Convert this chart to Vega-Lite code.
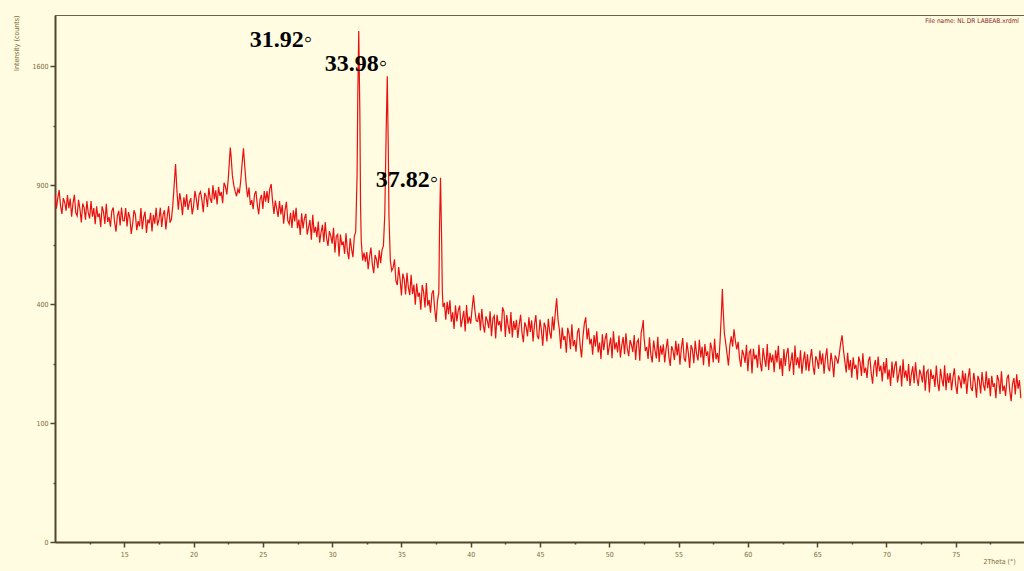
{
  "$schema": "https://vega.github.io/schema/vega-lite/v6.json",
  "width": 970,
  "height": 527,
  "autosize": {"type": "none"},
  "padding": {"left": 55, "top": 15, "right": 0, "bottom": 29},
  "background": "#FFFCE1",
  "title": {"text": "File name: NL  DR LABEAB.xrdml", "anchor": "end", "frame": "group", "orient": "top", "offset": -9, "dx": -6, "fontSize": 6.5, "font": "Liberation Sans Narrow, DejaVu Sans Condensed, sans-serif", "fontWeight": "normal", "color": "#8b1a1a"},
  "config": {
    "view": {"stroke": "#6b6245", "strokeWidth": 1},
    "axis": {"grid": false, "labelOverlap": false, "domainColor": "#4f462c", "domainWidth": 2, "tickColor": "#4f462c", "tickWidth": 1.5, "labelColor": "#7d6b3a", "labelFontSize": 7, "labelFont": "Liberation Sans Narrow, DejaVu Sans Condensed, sans-serif", "titleColor": "#7d6b3a", "titleFontSize": 7, "titleFontWeight": "normal", "titleFont": "Liberation Sans Narrow, DejaVu Sans Condensed, sans-serif"}
  },
  "resolve": {"axis": {"x": "independent"}},
  "layer": [
    {
      "data": {"values": [
{"angle":10.0,"counts":860},{"angle":10.1,"counts":785},{"angle":10.2,"counts":836},{"angle":10.3,"counts":875},{"angle":10.4,"counts":800},{"angle":10.5,"counts":761},{"angle":10.6,"counts":836},{"angle":10.7,"counts":815},{"angle":10.8,"counts":776},{"angle":10.9,"counts":851},
{"angle":11.0,"counts":788},{"angle":11.1,"counts":834},{"angle":11.2,"counts":748},{"angle":11.3,"counts":812},{"angle":11.4,"counts":852},{"angle":11.5,"counts":766},{"angle":11.6,"counts":752},{"angle":11.7,"counts":828},{"angle":11.8,"counts":784},{"angle":11.9,"counts":722},
{"angle":12.0,"counts":810},{"angle":12.1,"counts":790},{"angle":12.2,"counts":734},{"angle":12.3,"counts":822},{"angle":12.4,"counts":766},{"angle":12.5,"counts":740},{"angle":12.6,"counts":822},{"angle":12.7,"counts":748},{"angle":12.8,"counts":788},{"angle":12.9,"counts":714},
{"angle":13.0,"counts":796},{"angle":13.1,"counts":746},{"angle":13.2,"counts":763},{"angle":13.3,"counts":701},{"angle":13.4,"counts":796},{"angle":13.5,"counts":770},{"angle":13.6,"counts":715},{"angle":13.7,"counts":809},{"angle":13.8,"counts":724},{"angle":13.9,"counts":746},
{"angle":14.0,"counts":703},{"angle":14.1,"counts":774},{"angle":14.2,"counts":791},{"angle":14.3,"counts":724},{"angle":14.4,"counts":681},{"angle":14.5,"counts":752},{"angle":14.6,"counts":775},{"angle":14.7,"counts":708},{"angle":14.8,"counts":791},{"angle":14.9,"counts":730},
{"angle":15.0,"counts":729},{"angle":15.1,"counts":788},{"angle":15.2,"counts":704},{"angle":15.3,"counts":769},{"angle":15.4,"counts":744},{"angle":15.5,"counts":671},{"angle":15.6,"counts":713},{"angle":15.7,"counts":778},{"angle":15.8,"counts":759},{"angle":15.9,"counts":687},
{"angle":16.0,"counts":728},{"angle":16.1,"counts":704},{"angle":16.2,"counts":788},{"angle":16.3,"counts":692},{"angle":16.4,"counts":746},{"angle":16.5,"counts":771},{"angle":16.6,"counts":675},{"angle":16.7,"counts":735},{"angle":16.8,"counts":718},{"angle":16.9,"counts":766},
{"angle":17.0,"counts":682},{"angle":17.1,"counts":756},{"angle":17.2,"counts":716},{"angle":17.3,"counts":790},{"angle":17.4,"counts":708},{"angle":17.5,"counts":734},{"angle":17.6,"counts":790},{"angle":17.7,"counts":702},{"angle":17.8,"counts":758},{"angle":17.9,"counts":778},
{"angle":18.0,"counts":690},{"angle":18.1,"counts":752},{"angle":18.2,"counts":797},{"angle":18.3,"counts":721},{"angle":18.4,"counts":736},{"angle":18.5,"counts":800},{"angle":18.6,"counts":900},{"angle":18.7,"counts":1010},{"angle":18.8,"counts":870},{"angle":18.9,"counts":780},
{"angle":19.0,"counts":860},{"angle":19.1,"counts":819},{"angle":19.2,"counts":755},{"angle":19.3,"counts":840},{"angle":19.4,"counts":794},{"angle":19.5,"counts":855},{"angle":19.6,"counts":779},{"angle":19.7,"counts":816},{"angle":19.8,"counts":836},{"angle":19.9,"counts":759},
{"angle":20.0,"counts":797},{"angle":20.1,"counts":871},{"angle":20.2,"counts":831},{"angle":20.3,"counts":779},{"angle":20.4,"counts":853},{"angle":20.5,"counts":867},{"angle":20.6,"counts":827},{"angle":20.7,"counts":769},{"angle":20.8,"counts":861},{"angle":20.9,"counts":845},
{"angle":21.0,"counts":793},{"angle":21.1,"counts":886},{"angle":21.2,"counts":834},{"angle":21.3,"counts":813},{"angle":21.4,"counts":899},{"angle":21.5,"counts":830},{"angle":21.6,"counts":874},{"angle":21.7,"counts":805},{"angle":21.8,"counts":891},{"angle":21.9,"counts":846},
{"angle":22.0,"counts":866},{"angle":22.1,"counts":811},{"angle":22.2,"counts":912},{"angle":22.3,"counts":893},{"angle":22.4,"counts":854},{"angle":22.5,"counts":930},{"angle":22.6,"counts":1040},{"angle":22.65,"counts":1100},{"angle":22.7,"counts":1060},{"angle":22.8,"counts":950},{"angle":22.9,"counts":900},
{"angle":23.0,"counts":870},{"angle":23.1,"counts":845},{"angle":23.2,"counts":880},{"angle":23.3,"counts":860},{"angle":23.4,"counts":920},{"angle":23.5,"counts":1010},{"angle":23.6,"counts":1095},{"angle":23.7,"counts":990},{"angle":23.8,"counts":900},{"angle":23.9,"counts":840},
{"angle":24.0,"counts":888},{"angle":24.1,"counts":803},{"angle":24.2,"counts":826},{"angle":24.3,"counts":783},{"angle":24.4,"counts":854},{"angle":24.5,"counts":871},{"angle":24.6,"counts":803},{"angle":24.7,"counts":759},{"angle":24.8,"counts":830},{"angle":24.9,"counts":852},
{"angle":25.0,"counts":784},{"angle":25.1,"counts":870},{"angle":25.2,"counts":819},{"angle":25.3,"counts":870},{"angle":25.4,"counts":813},{"angle":25.5,"counts":882},{"angle":25.6,"counts":905},{"angle":25.7,"counts":822},{"angle":25.8,"counts":761},{"angle":25.9,"counts":824},
{"angle":26.0,"counts":786},{"angle":26.1,"counts":747},{"angle":26.2,"counts":822},{"angle":26.3,"counts":758},{"angle":26.4,"counts":803},{"angle":26.5,"counts":716},{"angle":26.6,"counts":779},{"angle":26.7,"counts":818},{"angle":26.8,"counts":730},{"angle":26.9,"counts":715},
{"angle":27.0,"counts":766},{"angle":27.1,"counts":697},{"angle":27.2,"counts":778},{"angle":27.3,"counts":726},{"angle":27.4,"counts":789},{"angle":27.5,"counts":696},{"angle":27.6,"counts":735},{"angle":27.7,"counts":666},{"angle":27.8,"counts":764},{"angle":27.9,"counts":695},
{"angle":28.0,"counts":740},{"angle":28.1,"counts":761},{"angle":28.2,"counts":668},{"angle":28.3,"counts":700},{"angle":28.4,"counts":733},{"angle":28.5,"counts":646},{"angle":28.6,"counts":757},{"angle":28.7,"counts":676},{"angle":28.8,"counts":702},{"angle":28.9,"counts":657},
{"angle":29.0,"counts":726},{"angle":29.1,"counts":633},{"angle":29.2,"counts":678},{"angle":29.3,"counts":711},{"angle":29.4,"counts":636},{"angle":29.5,"counts":723},{"angle":29.6,"counts":653},{"angle":29.7,"counts":620},{"angle":29.8,"counts":683},{"angle":29.9,"counts":662},
{"angle":30.0,"counts":629},{"angle":30.1,"counts":698},{"angle":30.2,"counts":592},{"angle":30.3,"counts":661},{"angle":30.4,"counts":669},{"angle":30.5,"counts":576},{"angle":30.6,"counts":668},{"angle":30.7,"counts":623},{"angle":30.8,"counts":638},{"angle":30.9,"counts":587},
{"angle":31.0,"counts":674},{"angle":31.1,"counts":599},{"angle":31.2,"counts":565},{"angle":31.3,"counts":652},{"angle":31.4,"counts":607},{"angle":31.5,"counts":573},{"angle":31.6,"counts":660},{"angle":31.7,"counts":680},{"angle":31.8,"counts":950},{"angle":31.85,"counts":1400},{"angle":31.92,"counts":1845},{"angle":32.0,"counts":1300},{"angle":32.05,"counts":800},{"angle":32.1,"counts":640},
{"angle":32.2,"counts":560},{"angle":32.3,"counts":592},{"angle":32.4,"counts":555},{"angle":32.5,"counts":594},{"angle":32.6,"counts":526},{"angle":32.7,"counts":575},{"angle":32.8,"counts":613},{"angle":32.9,"counts":545},{"angle":33.0,"counts":511},{"angle":33.1,"counts":582},{"angle":33.2,"counts":565},{"angle":33.3,"counts":530},{"angle":33.4,"counts":601},{"angle":33.5,"counts":549},{"angle":33.6,"counts":603},{"angle":33.7,"counts":620},{"angle":33.8,"counts":760},{"angle":33.9,"counts":1200},{"angle":33.98,"counts":1533},{"angle":34.05,"counts":1100},{"angle":34.1,"counts":750},{"angle":34.2,"counts":560},{"angle":34.3,"counts":520},
{"angle":34.4,"counts":532},{"angle":34.5,"counts":565},{"angle":34.6,"counts":483},{"angle":34.7,"counts":467},{"angle":34.8,"counts":534},{"angle":34.9,"counts":490},{"angle":35.0,"counts":430},{"angle":35.1,"counts":509},{"angle":35.2,"counts":488},{"angle":35.3,"counts":433},{"angle":35.4,"counts":512},{"angle":35.5,"counts":458},{"angle":35.6,"counts":431},{"angle":35.7,"counts":505},{"angle":35.8,"counts":434},{"angle":35.9,"counts":468},
{"angle":36.0,"counts":398},{"angle":36.1,"counts":472},{"angle":36.2,"counts":425},{"angle":36.3,"counts":439},{"angle":36.4,"counts":381},{"angle":36.5,"counts":467},{"angle":36.6,"counts":442},{"angle":36.7,"counts":389},{"angle":36.8,"counts":474},{"angle":36.9,"counts":395},
{"angle":37.0,"counts":414},{"angle":37.1,"counts":372},{"angle":37.2,"counts":436},{"angle":37.3,"counts":448},{"angle":37.4,"counts":384},{"angle":37.5,"counts":342},{"angle":37.6,"counts":411},{"angle":37.7,"counts":440},{"angle":37.75,"counts":700},{"angle":37.82,"counts":938},{"angle":37.9,"counts":650},{"angle":37.95,"counts":450},{"angle":38.0,"counts":390},
{"angle":38.1,"counts":404},{"angle":38.2,"counts":349},{"angle":38.3,"counts":408},{"angle":38.4,"counts":367},{"angle":38.5,"counts":413},{"angle":38.6,"counts":343},{"angle":38.7,"counts":373},{"angle":38.8,"counts":321},{"angle":38.9,"counts":396},{"angle":39.0,"counts":344},{"angle":39.1,"counts":379},{"angle":39.2,"counts":395},{"angle":39.3,"counts":326},{"angle":39.4,"counts":351},{"angle":39.5,"counts":378},{"angle":39.6,"counts":313},{"angle":39.7,"counts":397},{"angle":39.8,"counts":337},{"angle":39.9,"counts":359},
{"angle":40.0,"counts":337},{"angle":40.1,"counts":385},{"angle":40.2,"counts":430},{"angle":40.3,"counts":380},{"angle":40.4,"counts":346},{"angle":40.5,"counts":344},{"angle":40.6,"counts":371},{"angle":40.7,"counts":316},{"angle":40.8,"counts":384},{"angle":40.9,"counts":333},
{"angle":41.0,"counts":310},{"angle":41.1,"counts":360},{"angle":41.2,"counts":346},{"angle":41.3,"counts":323},{"angle":41.4,"counts":376},{"angle":41.5,"counts":299},{"angle":41.6,"counts":353},{"angle":41.7,"counts":362},{"angle":41.8,"counts":293},{"angle":41.9,"counts":365},
{"angle":42.0,"counts":332},{"angle":42.1,"counts":345},{"angle":42.2,"counts":313},{"angle":42.3,"counts":389},{"angle":42.4,"counts":375},{"angle":42.5,"counts":297},{"angle":42.6,"counts":364},{"angle":42.7,"counts":331},{"angle":42.8,"counts":307},{"angle":42.9,"counts":374},
{"angle":43.0,"counts":296},{"angle":43.1,"counts":345},{"angle":43.2,"counts":318},{"angle":43.3,"counts":349},{"angle":43.4,"counts":294},{"angle":43.5,"counts":334},{"angle":43.6,"counts":365},{"angle":43.7,"counts":310},{"angle":43.8,"counts":282},{"angle":43.9,"counts":341},
{"angle":44.0,"counts":327},{"angle":44.1,"counts":299},{"angle":44.2,"counts":357},{"angle":44.3,"counts":312},{"angle":44.4,"counts":347},{"angle":44.5,"counts":284},{"angle":44.6,"counts":334},{"angle":44.7,"counts":364},{"angle":44.8,"counts":301},{"angle":44.9,"counts":291},
{"angle":45.0,"counts":350},{"angle":45.1,"counts":318},{"angle":45.2,"counts":272},{"angle":45.3,"counts":340},{"angle":45.4,"counts":326},{"angle":45.5,"counts":284},{"angle":45.6,"counts":352},{"angle":45.7,"counts":311},{"angle":45.8,"counts":292},{"angle":45.9,"counts":359},
{"angle":46.0,"counts":316},{"angle":46.1,"counts":370},{"angle":46.2,"counts":420},{"angle":46.3,"counts":350},{"angle":46.4,"counts":318},{"angle":46.5,"counts":264},{"angle":46.6,"counts":325},{"angle":46.7,"counts":288},{"angle":46.8,"counts":300},{"angle":46.9,"counts":253},
{"angle":47.0,"counts":324},{"angle":47.1,"counts":305},{"angle":47.2,"counts":263},{"angle":47.3,"counts":335},{"angle":47.4,"counts":271},{"angle":47.5,"counts":288},{"angle":47.6,"counts":256},{"angle":47.7,"counts":310},{"angle":47.8,"counts":323},{"angle":47.9,"counts":272},
{"angle":48.0,"counts":241},{"angle":48.1,"counts":299},{"angle":48.2,"counts":337},{"angle":48.3,"counts":357},{"angle":48.4,"counts":290},{"angle":48.5,"counts":323},{"angle":48.6,"counts":276},{"angle":48.7,"counts":292},{"angle":48.8,"counts":248},{"angle":48.9,"counts":303},
{"angle":49.0,"counts":270},{"angle":49.1,"counts":314},{"angle":49.2,"counts":254},{"angle":49.3,"counts":281},{"angle":49.4,"counts":237},{"angle":49.5,"counts":305},{"angle":49.6,"counts":260},{"angle":49.7,"counts":292},{"angle":49.8,"counts":308},{"angle":49.9,"counts":247},
{"angle":50.0,"counts":271},{"angle":50.1,"counts":295},{"angle":50.2,"counts":239},{"angle":50.3,"counts":314},{"angle":50.4,"counts":262},{"angle":50.5,"counts":282},{"angle":50.6,"counts":254},{"angle":50.7,"counts":301},{"angle":50.8,"counts":241},{"angle":50.9,"counts":273},
{"angle":51.0,"counts":297},{"angle":51.1,"counts":249},{"angle":51.2,"counts":308},{"angle":51.3,"counts":264},{"angle":51.4,"counts":244},{"angle":51.5,"counts":288},{"angle":51.6,"counts":275},{"angle":51.7,"counts":255},{"angle":51.8,"counts":303},{"angle":51.9,"counts":234},
{"angle":52.0,"counts":282},{"angle":52.1,"counts":290},{"angle":52.2,"counts":232},{"angle":52.3,"counts":309},{"angle":52.4,"counts":330},{"angle":52.45,"counts":348},{"angle":52.5,"counts":300},{"angle":52.6,"counts":258},{"angle":52.7,"counts":269},{"angle":52.8,"counts":237},{"angle":52.9,"counts":296},
{"angle":53.0,"counts":248},{"angle":53.1,"counts":228},{"angle":53.2,"counts":287},{"angle":53.3,"counts":259},{"angle":53.4,"counts":238},{"angle":53.5,"counts":298},{"angle":53.6,"counts":229},{"angle":53.7,"counts":273},{"angle":53.8,"counts":248},{"angle":53.9,"counts":276},
{"angle":54.0,"counts":228},{"angle":54.1,"counts":264},{"angle":54.2,"counts":292},{"angle":54.3,"counts":243},{"angle":54.4,"counts":219},{"angle":54.5,"counts":271},{"angle":54.6,"counts":259},{"angle":54.7,"counts":234},{"angle":54.8,"counts":286},{"angle":54.9,"counts":246},
{"angle":55.0,"counts":278},{"angle":55.1,"counts":222},{"angle":55.2,"counts":266},{"angle":55.3,"counts":294},{"angle":55.4,"counts":238},{"angle":55.5,"counts":230},{"angle":55.6,"counts":282},{"angle":55.7,"counts":254},{"angle":55.8,"counts":214},{"angle":55.9,"counts":274},
{"angle":56.0,"counts":262},{"angle":56.1,"counts":226},{"angle":56.2,"counts":286},{"angle":56.3,"counts":250},{"angle":56.4,"counts":233},{"angle":56.5,"counts":289},{"angle":56.6,"counts":241},{"angle":56.7,"counts":269},{"angle":56.8,"counts":221},{"angle":56.9,"counts":277},
{"angle":57.0,"counts":245},{"angle":57.1,"counts":257},{"angle":57.2,"counts":217},{"angle":57.3,"counts":281},{"angle":57.4,"counts":264},{"angle":57.5,"counts":228},{"angle":57.6,"counts":292},{"angle":57.7,"counts":236},{"angle":57.8,"counts":252},{"angle":57.9,"counts":227},
{"angle":58.0,"counts":290},{"angle":58.1,"counts":380},{"angle":58.16,"counts":452},{"angle":58.2,"counts":400},{"angle":58.3,"counts":310},{"angle":58.4,"counts":280},{"angle":58.5,"counts":250},{"angle":58.6,"counts":220},{"angle":58.7,"counts":273},{"angle":58.8,"counts":299},{"angle":58.9,"counts":270},
{"angle":59.0,"counts":320},{"angle":59.1,"counts":286},{"angle":59.2,"counts":262},{"angle":59.3,"counts":283},{"angle":59.4,"counts":238},{"angle":59.5,"counts":217},{"angle":59.6,"counts":261},{"angle":59.7,"counts":248},{"angle":59.8,"counts":227},{"angle":59.9,"counts":275},
{"angle":60.0,"counts":206},{"angle":60.1,"counts":254},{"angle":60.2,"counts":261},{"angle":60.3,"counts":201},{"angle":60.4,"counts":264},{"angle":60.5,"counts":236},{"angle":60.6,"counts":248},{"angle":60.7,"counts":215},{"angle":60.8,"counts":275},{"angle":60.9,"counts":226},
{"angle":61.0,"counts":206},{"angle":61.1,"counts":266},{"angle":61.2,"counts":238},{"angle":61.3,"counts":217},{"angle":61.4,"counts":277},{"angle":61.5,"counts":209},{"angle":61.6,"counts":253},{"angle":61.7,"counts":228},{"angle":61.8,"counts":248},{"angle":61.9,"counts":204},
{"angle":62.0,"counts":260},{"angle":62.1,"counts":228},{"angle":62.2,"counts":272},{"angle":62.3,"counts":211},{"angle":62.4,"counts":239},{"angle":62.5,"counts":195},{"angle":62.6,"counts":263},{"angle":62.7,"counts":219},{"angle":62.8,"counts":250},{"angle":62.9,"counts":266},
{"angle":63.0,"counts":206},{"angle":63.1,"counts":230},{"angle":63.2,"counts":254},{"angle":63.3,"counts":197},{"angle":63.4,"counts":273},{"angle":63.5,"counts":221},{"angle":63.6,"counts":241},{"angle":63.7,"counts":213},{"angle":63.8,"counts":260},{"angle":63.9,"counts":200},
{"angle":64.0,"counts":232},{"angle":64.1,"counts":256},{"angle":64.2,"counts":208},{"angle":64.3,"counts":249},{"angle":64.4,"counts":206},{"angle":64.5,"counts":238},{"angle":64.6,"counts":263},{"angle":64.7,"counts":219},{"angle":64.8,"counts":198},{"angle":64.9,"counts":244},
{"angle":65.0,"counts":234},{"angle":65.1,"counts":212},{"angle":65.2,"counts":259},{"angle":65.3,"counts":223},{"angle":65.4,"counts":251},{"angle":65.5,"counts":200},{"angle":65.6,"counts":240},{"angle":65.7,"counts":265},{"angle":65.8,"counts":215},{"angle":65.9,"counts":206},
{"angle":66.0,"counts":253},{"angle":66.1,"counts":228},{"angle":66.2,"counts":192},{"angle":66.3,"counts":246},{"angle":66.4,"counts":237},{"angle":66.5,"counts":225},{"angle":66.6,"counts":250},{"angle":66.7,"counts":280},{"angle":66.8,"counts":302},{"angle":66.9,"counts":260},
{"angle":67.0,"counts":230},{"angle":67.1,"counts":203},{"angle":67.2,"counts":253},{"angle":67.3,"counts":209},{"angle":67.4,"counts":234},{"angle":67.5,"counts":191},{"angle":67.6,"counts":241},{"angle":67.7,"counts":212},{"angle":67.8,"counts":222},{"angle":67.9,"counts":186},
{"angle":68.0,"counts":243},{"angle":68.1,"counts":228},{"angle":68.2,"counts":195},{"angle":68.3,"counts":252},{"angle":68.4,"counts":202},{"angle":68.5,"counts":215},{"angle":68.6,"counts":190},{"angle":68.7,"counts":232},{"angle":68.8,"counts":243},{"angle":68.9,"counts":202},
{"angle":69.0,"counts":177},{"angle":69.1,"counts":219},{"angle":69.2,"counts":234},{"angle":69.3,"counts":193},{"angle":69.4,"counts":243},{"angle":69.5,"counts":206},{"angle":69.6,"counts":220},{"angle":69.7,"counts":182},{"angle":69.8,"counts":229},{"angle":69.9,"counts":201},
{"angle":70.0,"counts":239},{"angle":70.1,"counts":187},{"angle":70.2,"counts":210},{"angle":70.3,"counts":172},{"angle":70.4,"counts":230},{"angle":70.5,"counts":191},{"angle":70.6,"counts":219},{"angle":70.7,"counts":231},{"angle":70.8,"counts":180},{"angle":70.9,"counts":200},
{"angle":71.0,"counts":220},{"angle":71.1,"counts":171},{"angle":71.2,"counts":236},{"angle":71.3,"counts":191},{"angle":71.4,"counts":208},{"angle":71.5,"counts":183},{"angle":71.6,"counts":224},{"angle":71.7,"counts":172},{"angle":71.8,"counts":199},{"angle":71.9,"counts":218},
{"angle":72.0,"counts":178},{"angle":72.1,"counts":228},{"angle":72.2,"counts":190},{"angle":72.3,"counts":172},{"angle":72.4,"counts":210},{"angle":72.5,"counts":198},{"angle":72.6,"counts":180},{"angle":72.7,"counts":221},{"angle":72.8,"counts":162},{"angle":72.9,"counts":203},
{"angle":73.0,"counts":209},{"angle":73.1,"counts":158},{"angle":73.2,"counts":211},{"angle":73.3,"counts":188},{"angle":73.4,"counts":197},{"angle":73.5,"counts":170},{"angle":73.6,"counts":220},{"angle":73.7,"counts":179},{"angle":73.8,"counts":161},{"angle":73.9,"counts":212},
{"angle":74.0,"counts":188},{"angle":74.1,"counts":171},{"angle":74.2,"counts":221},{"angle":74.3,"counts":163},{"angle":74.4,"counts":201},{"angle":74.5,"counts":179},{"angle":74.6,"counts":202},{"angle":74.7,"counts":163},{"angle":74.8,"counts":191},{"angle":74.9,"counts":213},
{"angle":75.0,"counts":174},{"angle":75.1,"counts":155},{"angle":75.2,"counts":196},{"angle":75.3,"counts":186},{"angle":75.4,"counts":167},{"angle":75.5,"counts":208},{"angle":75.6,"counts":176},{"angle":75.7,"counts":201},{"angle":75.8,"counts":155},{"angle":75.9,"counts":191},
{"angle":76.0,"counts":213},{"angle":76.1,"counts":168},{"angle":76.2,"counts":161},{"angle":76.3,"counts":202},{"angle":76.4,"counts":180},{"angle":76.5,"counts":147},{"angle":76.6,"counts":195},{"angle":76.7,"counts":185},{"angle":76.8,"counts":156},{"angle":76.9,"counts":204},
{"angle":77.0,"counts":175},{"angle":77.1,"counts":162},{"angle":77.2,"counts":206},{"angle":77.3,"counts":167},{"angle":77.4,"counts":190},{"angle":77.5,"counts":150},{"angle":77.6,"counts":195},{"angle":77.7,"counts":170},{"angle":77.8,"counts":178},{"angle":77.9,"counts":146},
{"angle":78.0,"counts":197},{"angle":78.1,"counts":185},{"angle":78.2,"counts":155},{"angle":78.3,"counts":206},{"angle":78.4,"counts":161},{"angle":78.5,"counts":173},{"angle":78.6,"counts":151},{"angle":78.7,"counts":189},{"angle":78.8,"counts":198},{"angle":78.9,"counts":162},
{"angle":79.0,"counts":140},{"angle":79.1,"counts":177},{"angle":79.2,"counts":190},{"angle":79.3,"counts":154},{"angle":79.4,"counts":199},{"angle":79.5,"counts":166},{"angle":79.6,"counts":185},{"angle":79.7,"counts":146}
      ]},
      "mark": {"type": "line", "color": "#e81010", "strokeWidth": 1.2, "clip": true},
      "encoding": {
        "x": {"field": "angle", "type": "quantitative", "scale": {"domain": [10, 80], "nice": false, "zero": false},
          "axis": {"orient": "bottom", "values": [15,20,25,30,35,40,45,50,55,60,65,70,75],
            "tickSize": 5, "labelPadding": 3, "labelFlush": false,
            "title": "2Theta (°)", "titleX": 928, "titleY": 19, "titleAlign": "left", "titleBaseline": "middle"}},
        "y": {"field": "counts", "type": "quantitative", "scale": {"type": "sqrt", "domain": [0, 1963], "nice": false, "zero": true},
          "axis": {"values": [0,25,100,225,400,625,900,1225,1600], "format": "d",
            "labelExpr": "indexof([0,100,400,900,1600], datum.value) >= 0 ? datum.label : ''",
            "tickSize": {"condition": {"test": "indexof([0,100,400,900,1600], datum.value) >= 0", "value": 5}, "value": 2},
            "labelPadding": 2, "labelFlush": false,
            "title": "Intensity (counts)", "titleAnchor": "end", "titlePadding": 12}}
      }
    },
    {
      "data": {"values": [
        {"angle": 28.56, "counts": 1732, "label": "31.92◦"},
        {"angle": 33.97, "counts": 1568, "label": "33.98◦"},
        {"angle": 37.65, "counts": 891, "label": "37.82◦"}
      ]},
      "mark": {"type": "text", "align": "right", "baseline": "alphabetic", "font": "Liberation Serif", "fontSize": 24, "fontWeight": "bold", "color": "#000000"},
      "encoding": {
        "x": {"field": "angle", "type": "quantitative",
          "axis": {"orient": "bottom", "values": [12.5,17.5,22.5,27.5,32.5,37.5,42.5,47.5,52.5,57.5,62.5,67.5,72.5,77.5], "labels": false, "domain": false, "tickSize": 2, "title": null}},
        "y": {"field": "counts", "type": "quantitative"},
        "text": {"field": "label"}
      }
    }
  ]
}
